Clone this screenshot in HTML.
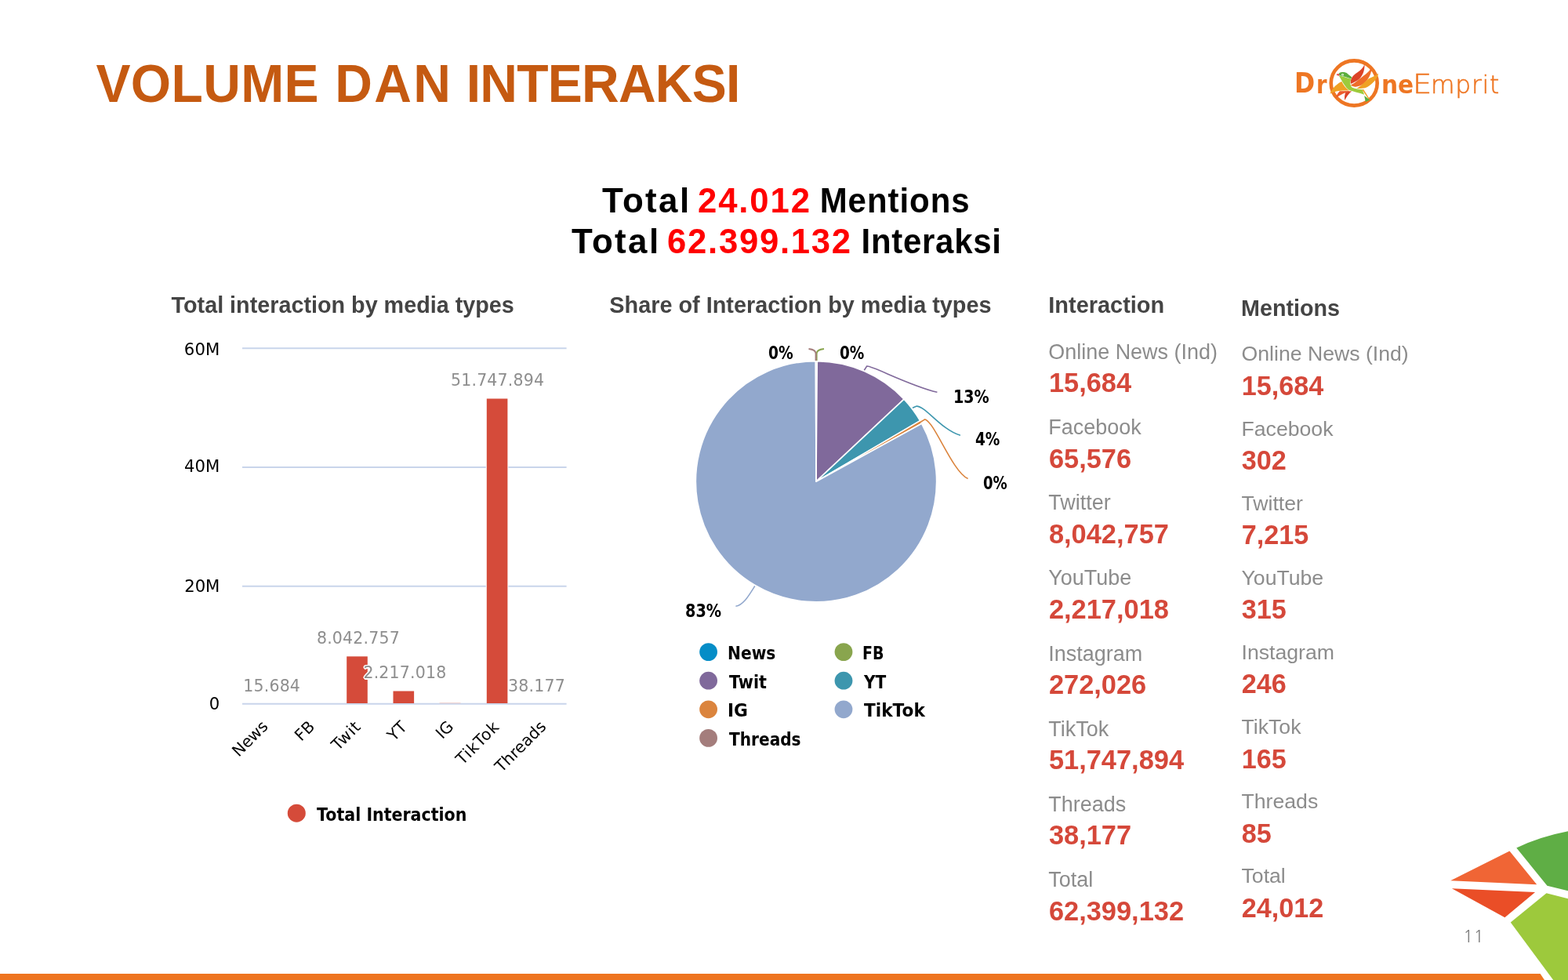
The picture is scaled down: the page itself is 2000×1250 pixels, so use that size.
<!DOCTYPE html>
<html lang="id"><head><meta charset="utf-8"><title>Volume dan Interaksi</title>
<style>
*{margin:0;padding:0;box-sizing:border-box}
html,body{width:2000px;height:1250px;background:#fff;overflow:hidden}
body{position:relative;font-family:"Liberation Sans",sans-serif}
.t{position:absolute;white-space:nowrap;line-height:1}
.ct{font-weight:bold;color:#444;transform-origin:0 84.65%;transform:scaleY(1.02)}
.lab{color:#8c8c8c}
.num{font-weight:bold;color:#D5483A}
.dv{font-family:"DejaVu Sans",sans-serif}
.dl{font-size:20.5px;letter-spacing:0.18px;color:#8e8e8e}
.xl{font-size:20.4px;color:#000;transform-origin:100% 50%;transform:rotate(-45deg)}
svg{position:absolute;left:0;top:0}
</style></head>
<body>
<svg width="2000" height="1250" viewBox="0 0 2000 1250">
<polygon points="0,1242 1964.6,1242 1970,1250 0,1250" fill="#EE7420"/>
<polygon points="1850.2,1123.3 1925.5,1085.6 1960.2,1128.2" fill="#F06535"/>
<polygon points="1851.9,1133.2 1958.1,1138.1 1919.4,1170.3" fill="#EA4E27"/>
<path d="M1934.3,1081.4 Q1965,1067 2000,1060.3 L2000,1136.3 L1973.4,1129.8 Z" fill="#5FAE45"/>
<path d="M1972.5,1139.2 L2000,1146.2 L2000,1250 L1981.2,1250 L1926.8,1176.5 Z" fill="#9DC93C"/>
<line x1="309" y1="444.2" x2="722.6" y2="444.2" stroke="#C9D5EB" stroke-width="2"/>
<line x1="309" y1="595.9" x2="722.6" y2="595.9" stroke="#C9D5EB" stroke-width="2"/>
<line x1="309" y1="747.8" x2="722.6" y2="747.8" stroke="#C9D5EB" stroke-width="2"/>
<line x1="309" y1="897.7" x2="722.6" y2="897.7" stroke="#C9D5EB" stroke-width="2"/>
<rect x="441.2" y="836.3" width="28.6" height="59.7" fill="#fff"/>
<rect x="442.2" y="837.3" width="26.6" height="59.7" fill="#D54B3A"/>
<rect x="500.5" y="880.5" width="28.6" height="15.5" fill="#fff"/>
<rect x="501.5" y="881.5" width="26.6" height="15.5" fill="#D54B3A"/>
<rect x="619.8" y="507.5" width="28.6" height="388.5" fill="#fff"/>
<rect x="620.8" y="508.5" width="26.6" height="388.5" fill="#D54B3A"/>
<rect x="560.5" y="896.2" width="27" height="1" fill="#EFCFCB"/>
<circle cx="378.3" cy="1037.2" r="11.5" fill="#D54B3A"/>
<path d="M1041,614.2 L1041.00,460.60 A153.6,153.6 0 0 1 1041.24,460.60 Z" fill="#058DC7" stroke="#fff" stroke-width="1.6" stroke-linejoin="round"/>
<path d="M1041,614.2 L1041.24,460.60 A153.6,153.6 0 0 1 1042.26,460.61 Z" fill="#89A54E" stroke="#fff" stroke-width="1.6" stroke-linejoin="round"/>
<path d="M1041,614.2 L1042.26,460.61 A153.6,153.6 0 0 1 1153.10,509.19 Z" fill="#80699B" stroke="#fff" stroke-width="1.6" stroke-linejoin="round"/>
<path d="M1041,614.2 L1153.10,509.19 A153.6,153.6 0 0 1 1173.56,536.61 Z" fill="#3D96AE" stroke="#fff" stroke-width="1.6" stroke-linejoin="round"/>
<path d="M1041,614.2 L1173.56,536.61 A153.6,153.6 0 0 1 1175.64,540.27 Z" fill="#DB843D" stroke="#fff" stroke-width="1.6" stroke-linejoin="round"/>
<path d="M1041,614.2 L1175.64,540.27 A153.6,153.6 0 1 1 1040.41,460.60 Z" fill="#92A8CD" stroke="#fff" stroke-width="1.6" stroke-linejoin="round"/>
<path d="M1041,614.2 L1040.41,460.60 A153.6,153.6 0 0 1 1041.00,460.60 Z" fill="#A47D7C" stroke="#fff" stroke-width="1.6" stroke-linejoin="round"/>
<path d="M1041.6,460 L1041.6,451 Q1041.6,446 1051,445" fill="none" stroke="#89A54E" stroke-width="2"/>
<path d="M1040.6,460 L1040.6,451 Q1040.6,446 1031.5,445" fill="none" stroke="#A47D7C" stroke-width="2"/>
<path d="M1102.3,472.3 L1105.7,467.1 C1112,466 1160,492 1195.4,500.3" fill="none" stroke="#80699B" stroke-width="1.6"/>
<path d="M1164,520.3 L1168.6,518.2 C1180,517 1200,548 1224.9,555.3" fill="none" stroke="#3D96AE" stroke-width="1.6"/>
<path d="M1172.6,539.2 L1179.9,534.9 C1192,538 1215,602 1234.6,610.6" fill="none" stroke="#DB843D" stroke-width="1.6"/>
<path d="M962.8,747.5 C955,760 948,772 938.4,773.3" fill="none" stroke="#92A8CD" stroke-width="1.6"/>
<circle cx="903.6" cy="831.6" r="11.4" fill="#058DC7"/>
<circle cx="1076" cy="831.6" r="11.4" fill="#89A54E"/>
<circle cx="903.6" cy="868.2" r="11.4" fill="#80699B"/>
<circle cx="1076" cy="868.2" r="11.4" fill="#3D96AE"/>
<circle cx="903.6" cy="904.8" r="11.4" fill="#DB843D"/>
<circle cx="1076" cy="904.8" r="11.4" fill="#92A8CD"/>
<circle cx="903.6" cy="941.4" r="11.4" fill="#A47D7C"/>
</svg>
<div class="ttl"><span class="t " style="left:122.50px;top:74.33px;font-size:66px;font-weight:bold;color:#C55A11;letter-spacing:0.337px;transform-origin:0 84.65%;transform:scale(1,1.04);">VOLUME</span> <span class="t " style="left:427.25px;top:74.33px;font-size:66px;font-weight:bold;color:#C55A11;letter-spacing:2.337px;transform-origin:0 84.65%;transform:scale(1,1.04);">DAN</span> <span class="t " style="left:594.75px;top:74.33px;font-size:66px;font-weight:bold;color:#C55A11;letter-spacing:-0.762px;transform-origin:0 84.65%;transform:scale(1,1.04);">INTERAKSI</span></div>
<div class="hlw"><span class="t " style="left:768.40px;top:235.75px;font-size:42px;font-weight:bold;color:#000;letter-spacing:2.275px;transform-origin:0 84.65%;transform:scale(1.045,1.05);">Total</span> <span class="t " style="left:889.96px;top:235.75px;font-size:42px;font-weight:bold;color:#FF0000;letter-spacing:1.799px;transform-origin:0 84.65%;transform:scale(1.04,1.05);">24.012</span> <span class="t " style="left:1045.70px;top:235.75px;font-size:42px;font-weight:bold;color:#000;letter-spacing:0.948px;transform-origin:0 84.65%;transform:scale(1,1.05);">Mentions</span></div>
<div class="hlw"><span class="t " style="left:729.10px;top:288.45px;font-size:42px;font-weight:bold;color:#000;letter-spacing:2.275px;transform-origin:0 84.65%;transform:scale(1.045,1.05);">Total</span> <span class="t " style="left:850.66px;top:288.45px;font-size:42px;font-weight:bold;color:#FF0000;letter-spacing:1.66px;transform-origin:0 84.65%;transform:scale(1.04,1.05);">62.399.132</span> <span class="t " style="left:1098.50px;top:288.45px;font-size:42px;font-weight:bold;color:#000;letter-spacing:0.714px;transform-origin:0 84.65%;transform:scale(1,1.05);">Interaksi</span></div>
<div class="t ct" style="left:218.6px;top:374.96px;font-size:28.75px;">Total interaction by media types</div>
<div class="t ct" style="left:777.3px;top:374.88px;font-size:28.85px;">Share of Interaction by media types</div>
<div class="t ct" style="left:1337.3px;top:375.09px;font-size:28.95px;">Interaction</div>
<div class="t ct" style="left:1583.1px;top:378.61px;font-size:28.7px;">Mentions</div>
<div class="t lab" style="left:1337.3px;top:435.79px;font-size:26.95px;">Online News (Ind)</div>
<div class="t num" style="left:1337.9px;top:471.48px;font-size:34.4px;">15,684</div>
<div class="t lab" style="left:1583.5px;top:438.44px;font-size:26.65px;">Online News (Ind)</div>
<div class="t num" style="left:1583.8px;top:475.15px;font-size:34.2px;">15,684</div>
<div class="t lab" style="left:1337.3px;top:531.99px;font-size:26.95px;">Facebook</div>
<div class="t num" style="left:1337.9px;top:567.63px;font-size:34.4px;">65,576</div>
<div class="t lab" style="left:1583.5px;top:533.57px;font-size:26.65px;">Facebook</div>
<div class="t num" style="left:1583.8px;top:570.22px;font-size:34.2px;">302</div>
<div class="t lab" style="left:1337.3px;top:628.19px;font-size:26.95px;">Twitter</div>
<div class="t num" style="left:1337.9px;top:663.78px;font-size:34.4px;">8,042,757</div>
<div class="t lab" style="left:1583.5px;top:628.70px;font-size:26.65px;">Twitter</div>
<div class="t num" style="left:1583.8px;top:665.29px;font-size:34.2px;">7,215</div>
<div class="t lab" style="left:1337.3px;top:724.39px;font-size:26.95px;">YouTube</div>
<div class="t num" style="left:1337.9px;top:759.93px;font-size:34.4px;">2,217,018</div>
<div class="t lab" style="left:1583.5px;top:723.83px;font-size:26.65px;">YouTube</div>
<div class="t num" style="left:1583.8px;top:760.36px;font-size:34.2px;">315</div>
<div class="t lab" style="left:1337.3px;top:820.59px;font-size:26.95px;">Instagram</div>
<div class="t num" style="left:1337.9px;top:856.08px;font-size:34.4px;">272,026</div>
<div class="t lab" style="left:1583.5px;top:818.96px;font-size:26.65px;">Instagram</div>
<div class="t num" style="left:1583.8px;top:855.43px;font-size:34.2px;">246</div>
<div class="t lab" style="left:1337.3px;top:916.79px;font-size:26.95px;">TikTok</div>
<div class="t num" style="left:1337.9px;top:952.23px;font-size:34.4px;">51,747,894</div>
<div class="t lab" style="left:1583.5px;top:914.09px;font-size:26.65px;">TikTok</div>
<div class="t num" style="left:1583.8px;top:950.50px;font-size:34.2px;">165</div>
<div class="t lab" style="left:1337.3px;top:1012.99px;font-size:26.95px;">Threads</div>
<div class="t num" style="left:1337.9px;top:1048.38px;font-size:34.4px;">38,177</div>
<div class="t lab" style="left:1583.5px;top:1009.22px;font-size:26.65px;">Threads</div>
<div class="t num" style="left:1583.8px;top:1045.57px;font-size:34.2px;">85</div>
<div class="t lab" style="left:1337.3px;top:1109.19px;font-size:26.95px;">Total</div>
<div class="t num" style="left:1337.9px;top:1144.53px;font-size:34.4px;">62,399,132</div>
<div class="t lab" style="left:1583.5px;top:1104.35px;font-size:26.65px;">Total</div>
<div class="t num" style="left:1583.8px;top:1140.64px;font-size:34.2px;">24,012</div>
<span class="t " style="left:234.80px;top:434.56px;font-family:'DejaVu Sans',sans-serif;font-size:21.2px;font-weight:normal;color:#000;letter-spacing:0.17px;">60M</span>
<span class="t " style="left:235.00px;top:584.46px;font-family:'DejaVu Sans',sans-serif;font-size:21.2px;font-weight:normal;color:#000;letter-spacing:0.07px;">40M</span>
<span class="t " style="left:235.20px;top:737.06px;font-family:'DejaVu Sans',sans-serif;font-size:21.2px;font-weight:normal;color:#000;letter-spacing:-0.03px;">20M</span>
<span class="t " style="left:266.80px;top:886.66px;font-family:'DejaVu Sans',sans-serif;font-size:21.2px;font-weight:normal;color:#000;">0</span>
<div class="t dv dl" style="left:246.7px;width:200px;text-align:center;top:864.66px;">15.684</div>
<div class="t dv dl" style="left:356.9px;width:200px;text-align:center;top:803.66px;">8.042.757</div>
<div class="t dv dl" style="left:416.4px;width:200px;text-align:center;top:847.76px;text-shadow:-1.5px 0 #fff,1.5px 0 #fff,0 -1.5px #fff,0 1.5px #fff,-1px -1px #fff,1px 1px #fff,-1px 1px #fff,1px -1px #fff;">2.217.018</div>
<div class="t dv dl" style="left:534.6px;width:200px;text-align:center;top:475.46px;">51.747.894</div>
<div class="t dv dl" style="left:584.5px;width:200px;text-align:center;top:864.66px;">38.177</div>
<div class="t dv xl" style="right:1661.7px;top:913px;letter-spacing:-0.3px">News</div>
<div class="t dv xl" style="right:1602.6px;top:913px;letter-spacing:0px">FB</div>
<div class="t dv xl" style="right:1543.5px;top:913px;letter-spacing:0.8px">Twit</div>
<div class="t dv xl" style="right:1484.4px;top:913px;letter-spacing:0.5px">YT</div>
<div class="t dv xl" style="right:1425.4px;top:913px;letter-spacing:0px">IG</div>
<div class="t dv xl" style="right:1366.3px;top:913px;letter-spacing:1.0px">TikTok</div>
<div class="t dv xl" style="right:1307.2px;top:913px;letter-spacing:0px">Threads</div>
<span class="t " style="left:403.75px;top:1027.82px;font-family:'DejaVu Sans',sans-serif;font-size:22.2px;font-weight:bold;color:#000;transform-origin:0 84.60%;transform:scale(0.9274,1);">Total Interaction</span>
<span class="t " style="left:927.78px;top:822.22px;font-family:'DejaVu Sans',sans-serif;font-size:22.2px;font-weight:bold;color:#000;transform-origin:0 84.60%;transform:scale(0.9122,1);">News</span>
<span class="t " style="left:1100.29px;top:822.22px;font-family:'DejaVu Sans',sans-serif;font-size:22.2px;font-weight:bold;color:#000;transform-origin:0 84.60%;transform:scale(0.8574,1);">FB</span>
<span class="t " style="left:929.60px;top:858.82px;font-family:'DejaVu Sans',sans-serif;font-size:22.2px;font-weight:bold;color:#000;transform-origin:0 84.60%;transform:scale(0.9344,1);">Twit</span>
<span class="t " style="left:1101.91px;top:858.82px;font-family:'DejaVu Sans',sans-serif;font-size:22.2px;font-weight:bold;color:#000;transform-origin:0 84.60%;transform:scale(0.9073,1);">YT</span>
<span class="t " style="left:927.64px;top:895.42px;font-family:'DejaVu Sans',sans-serif;font-size:22.2px;font-weight:bold;color:#000;transform-origin:0 84.60%;transform:scale(0.9804,1);">IG</span>
<span class="t " style="left:1102.00px;top:895.42px;font-family:'DejaVu Sans',sans-serif;font-size:22.2px;font-weight:bold;color:#000;transform-origin:0 84.60%;transform:scale(0.9762,1);">TikTok</span>
<span class="t " style="left:929.60px;top:932.02px;font-family:'DejaVu Sans',sans-serif;font-size:22.2px;font-weight:bold;color:#000;transform-origin:0 84.60%;transform:scale(0.907,1);">Threads</span>
<span class="t " style="left:980.41px;top:438.73px;font-family:'DejaVu Sans',sans-serif;font-size:22.3px;font-weight:bold;color:#000;transform-origin:0 84.60%;transform:scale(0.838,1);">0%</span>
<span class="t " style="left:1071.37px;top:438.73px;font-family:'DejaVu Sans',sans-serif;font-size:22.3px;font-weight:bold;color:#000;transform-origin:0 84.60%;transform:scale(0.8298,1);">0%</span>
<span class="t " style="left:1216.39px;top:495.43px;font-family:'DejaVu Sans',sans-serif;font-size:22.3px;font-weight:bold;color:#000;transform-origin:0 84.60%;transform:scale(0.8564,1);">13%</span>
<span class="t " style="left:1244.27px;top:548.63px;font-family:'DejaVu Sans',sans-serif;font-size:22.3px;font-weight:bold;color:#000;transform-origin:0 84.60%;transform:scale(0.8298,1);">4%</span>
<span class="t " style="left:1254.19px;top:604.73px;font-family:'DejaVu Sans',sans-serif;font-size:22.3px;font-weight:bold;color:#000;transform-origin:0 84.60%;transform:scale(0.8134,1);">0%</span>
<span class="t " style="left:874.14px;top:767.73px;font-family:'DejaVu Sans',sans-serif;font-size:22.3px;font-weight:bold;color:#000;transform-origin:0 84.60%;transform:scale(0.8649,1);">83%</span>
<div class="t pn" style="left:1866.2px;top:1183.57px;font-size:21.2px;font-family:'NanumGothic','Liberation Sans',sans-serif;color:#808080;letter-spacing:0.75px;">11</div>
<svg width="2000" height="1250" viewBox="0 0 2000 1250">
<ellipse cx="1727.2" cy="106" rx="29.5" ry="28.6" fill="none" stroke="#EE7623" stroke-width="4.6"/>
<g transform="translate(1680,65) scale(0.06402)">
<path d="M490,610 C400,650 300,740 255,855 C330,800 480,780 640,790 C580,750 520,680 490,610 Z" fill="#EFA124"/>
<path d="M362,945 C390,870 425,825 450,800 L680,795 C560,820 450,880 362,945 Z" fill="#EC5B2B"/>
<path d="M550,985 C540,920 550,860 570,820 L690,800 C630,850 580,920 550,985 Z" fill="#DC4327"/>
<path d="M670,655 C650,560 720,480 800,430 C870,385 920,330 945,265 C950,400 900,520 800,590 C750,620 700,645 670,655 Z" fill="#DC4327"/>
<path d="M670,680 C760,640 860,540 960,470 C1010,430 1060,380 1090,325 C1085,450 1020,580 930,650 C850,710 740,740 670,680 Z" fill="#EE6D2A"/>
<path d="M790,745 C880,700 960,600 1030,550 C1100,520 1170,485 1222,448 C1195,560 1100,660 1000,720 C930,755 850,755 790,745 Z" fill="#EFA124"/>
<path d="M435,495 C520,500 600,540 680,560 C650,620 650,680 700,730 C760,760 840,760 900,770 L940,870 C840,830 720,810 640,780 C560,730 500,600 435,495 Z" fill="#9DCB3B"/>
<path d="M435,445 C480,415 560,415 610,455 C640,480 670,500 690,520 L680,555 C600,530 520,500 440,490 Z" fill="#5BAD3D"/>
<path d="M383,472 Q392,452 425,452 L445,462 L442,494 Q405,500 383,472 Z" fill="#E5554F"/>
<circle cx="508" cy="473" r="21" fill="#fff"/><circle cx="508" cy="473" r="10" fill="#6DB544"/>
<path d="M895,770 L925,765 L1045,955 L1025,960 Z" fill="#EFA124"/>
<path d="M940,890 L1050,975 L965,1015 Z" fill="#5BAD3D"/>
</g></svg>
<div class="logo"><span class="t " style="left:1650.55px;top:89.39px;font-family:'DejaVu Sans',sans-serif;font-size:35.0px;font-weight:bold;color:#EE7623;transform-origin:0 84.60%;transform:scale(0.9,1);">D</span><span class="t " style="left:1678.54px;top:91.93px;font-family:'DejaVu Sans',sans-serif;font-size:32.0px;font-weight:bold;color:#EE7623;transform-origin:0 84.60%;transform:scale(0.8571,1);">r</span><span class="t " style="left:1761.65px;top:91.93px;font-family:'DejaVu Sans',sans-serif;font-size:32.0px;font-weight:bold;color:#EE7623;transform-origin:0 84.60%;transform:scale(0.9263,1);">ne</span><span class="t " style="left:1802.45px;top:89.81px;font-family:'DejaVu Sans',sans-serif;font-size:34.5px;font-weight:200;color:#EE7623;transform-origin:0 84.60%;transform:scale(1.1133,1);-webkit-text-stroke:0.5px #EE7623;">E</span><span class="t " style="left:1824.90px;top:92.52px;font-family:'DejaVu Sans',sans-serif;font-size:31.3px;font-weight:200;color:#EE7623;letter-spacing:0.821px;-webkit-text-stroke:0.5px #EE7623;">mprit</span></div>
</body></html>
